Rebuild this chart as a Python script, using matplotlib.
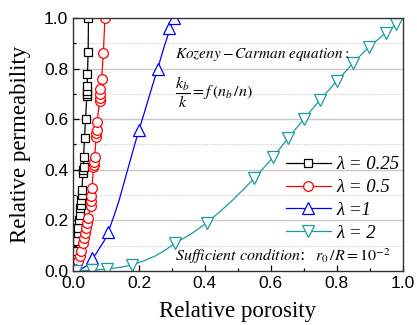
import matplotlib
matplotlib.use("Agg")
import matplotlib.pyplot as plt
from matplotlib.ticker import MultipleLocator
from matplotlib.lines import Line2D

plt.rcParams['mathtext.fontset'] = 'stix'

# lambda = 0.25
x025 = [0.0, 0.003, 0.005, 0.007, 0.009, 0.012, 0.014, 0.016, 0.018, 0.020, 0.022,
        0.024, 0.025, 0.026, 0.027, 0.030, 0.031, 0.032, 0.032, 0.035, 0.038,
        0.042, 0.042, 0.042, 0.043, 0.044, 0.046, 0.047]
y025 = [0.0, 0.01, 0.03, 0.05, 0.08, 0.12, 0.15, 0.17, 0.20, 0.22, 0.25,
        0.26, 0.28, 0.30, 0.32, 0.387, 0.40, 0.41, 0.45, 0.525, 0.60,
        0.69, 0.70, 0.71, 0.73, 0.78, 0.867, 1.0]
# lambda = 0.5
x05 = [0.0, 0.006, 0.010, 0.015, 0.020, 0.025, 0.030, 0.033, 0.036, 0.040, 0.042, 0.045,
       0.055, 0.055, 0.056, 0.058, 0.062, 0.063, 0.064, 0.066, 0.070, 0.071, 0.072,
       0.073, 0.081, 0.082, 0.082, 0.083, 0.087, 0.092, 0.097]
y05 = [0.0, 0.01, 0.02, 0.04, 0.06, 0.08, 0.11, 0.13, 0.15, 0.17, 0.19, 0.21,
       0.255, 0.275, 0.295, 0.33, 0.41, 0.42, 0.43, 0.45, 0.53, 0.545, 0.557,
       0.59, 0.67, 0.685, 0.70, 0.72, 0.76, 0.86, 1.0]
# lambda = 1 (markers)
x1 = [0.0, 0.01, 0.057, 0.107, 0.200, 0.257, 0.290, 0.306]
y1 = [0.0, 0.003, 0.05, 0.155, 0.557, 0.80, 0.96, 1.0]
# lambda = 1 (curve)
x1c = [0.0, 0.01, 0.02, 0.03, 0.04, 0.057, 0.07, 0.08, 0.095, 0.107, 0.125, 0.14, 0.155,
       0.17, 0.185, 0.200, 0.215, 0.23, 0.245, 0.257, 0.275, 0.290, 0.306]
y1c = [0.0, 0.001, 0.005, 0.011, 0.02, 0.05, 0.068, 0.09, 0.12, 0.155, 0.22, 0.28, 0.35,
       0.42, 0.49, 0.557, 0.62, 0.685, 0.75, 0.80, 0.88, 0.94, 1.0]
# lambda = 2 (markers)
x2 = [0.01, 0.057, 0.103, 0.18, 0.31, 0.405, 0.55, 0.607, 0.652, 0.70, 0.748,
      0.80, 0.848, 0.897, 0.948, 0.98]
y2 = [0.0, 0.003, 0.008, 0.024, 0.11, 0.19, 0.367, 0.45, 0.525, 0.60, 0.675,
      0.75, 0.82, 0.885, 0.94, 0.975]
# lambda = 2 (curve)
x2c = [0.0, 0.01, 0.057, 0.103, 0.14, 0.18, 0.22, 0.25, 0.28, 0.31, 0.36, 0.405, 0.44,
       0.48, 0.515, 0.55, 0.58, 0.607, 0.652, 0.70, 0.748, 0.80, 0.848, 0.897, 0.948,
       0.98, 1.0]
y2c = [0.0, 0.0, 0.003, 0.008, 0.014, 0.024, 0.043, 0.06, 0.083, 0.11, 0.148, 0.19, 0.228,
       0.275, 0.32, 0.367, 0.41, 0.45, 0.525, 0.60, 0.675, 0.75, 0.82, 0.885, 0.94,
       0.975, 1.0]

labels = ['λ = 0.25', 'λ = 0.5', 'λ =1', 'λ = 2']
teal = '#1a9c9c'

fig = plt.figure(figsize=(4.17, 3.25), dpi=100)
ax = fig.add_axes([0.175, 0.166, 0.791, 0.779])

# grid
ax.set_axisbelow(True)
for v in [0.2, 0.4, 0.6, 0.8]:
    ax.axhline(v, color='#c8c8c8', lw=1.0, zorder=0)
for v in [0.1, 0.3, 0.5, 0.7, 0.9]:
    ax.axhline(v, color='#c8c8c8', lw=0.8, ls=(0, (1, 1.5)), zorder=0)

l1, = ax.plot(x025, y025, color='black', lw=0.9, marker='s', ms=5.5, mfc='white',
              mec='black', mew=0.9, label=labels[0])
l2, = ax.plot(x05, y05, color='red', lw=0.9, marker='o', ms=7, mfc='white',
              mec='red', mew=0.9, label=labels[1])
ax.plot(x1c, y1c, color='blue', lw=0.9)
ax.plot(x1, y1, ls='none', marker='^', ms=8, mfc='white', mec='blue', mew=0.9)
ax.plot(x2c, y2c, color=teal, lw=0.9)
ax.plot(x2, y2, ls='none', marker='v', ms=8, mfc='white', mec=teal, mew=0.9)

h3 = Line2D([], [], color='blue', lw=0.9, marker='^', ms=8, mfc='white', mec='blue', mew=0.9)
h4 = Line2D([], [], color=teal, lw=0.9, marker='v', ms=8, mfc='white', mec=teal, mew=0.9)

leg = ax.legend([l1, l2, h3, h4], labels, loc='center left', bbox_to_anchor=(0.645, 0.285),
                frameon=False, handlelength=2.4, handletextpad=0.3, labelspacing=0.3,
                borderpad=0, borderaxespad=0,
                prop={'family': 'Liberation Serif', 'style': 'italic', 'size': 13.5})

ax.set_xlim(0, 1.0)
ax.set_ylim(0, 1.0)
ax.xaxis.set_major_locator(MultipleLocator(0.2))
ax.xaxis.set_minor_locator(MultipleLocator(0.1))
ax.yaxis.set_major_locator(MultipleLocator(0.2))
ax.yaxis.set_minor_locator(MultipleLocator(0.1))
ax.tick_params(which='both', direction='in', labelsize=12.5, width=0.9)
ax.tick_params(which='major', length=4)
ax.tick_params(which='minor', length=2.5)
for lab in ax.get_xticklabels() + ax.get_yticklabels():
    lab.set_family('Liberation Sans')
for s in ax.spines.values():
    s.set_linewidth(1.0)
    s.set_color('#333333')

ax.set_xlabel('Relative porosity', family='Liberation Serif', fontsize=16.5, labelpad=7)
ax.set_ylabel('Relative permeability', family='Liberation Serif', fontsize=16.5, labelpad=9)

ax.text(0.31, 0.855, r'$Kozeny-Carman\ equation:$', transform=ax.transAxes,
        fontsize=11, va='center', ha='left')
ax.text(0.31, 0.705, r'$\dfrac{k_b}{k}=f\,\left(n_b\,/n\right)$', transform=ax.transAxes,
        fontsize=11.5, va='center', ha='left')
ax.text(0.31, 0.06, r'$Sufficient\ condition$:  $r_0\,/R=10^{-2}$', transform=ax.transAxes,
        fontsize=11.5, va='center', ha='left')

fig.savefig('out.png', dpi=100)
